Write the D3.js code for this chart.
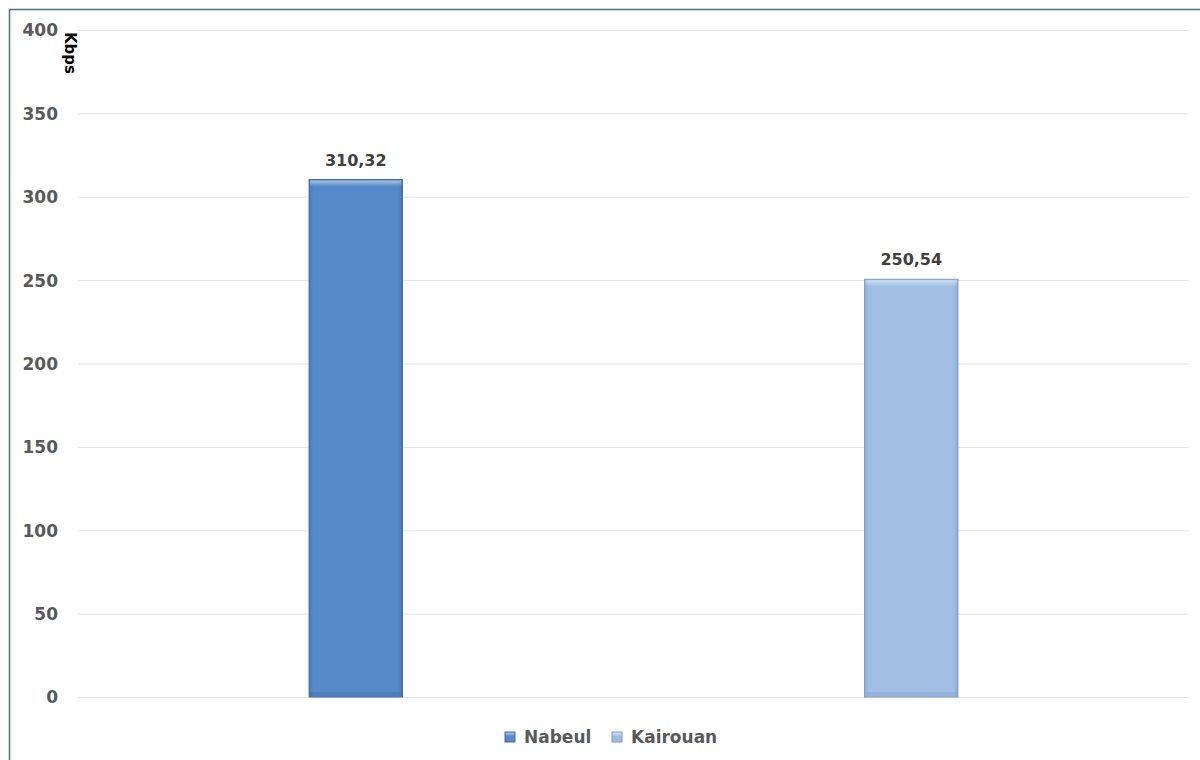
<!DOCTYPE html>
<html><head><meta charset="utf-8">
<script src="https://cdn.jsdelivr.net/npm/d3@7"></script>
<style>
html,body{margin:0;padding:0;background:#fff;}
svg{display:block;}
text{font-family:"DejaVu Sans",sans-serif;}
</style></head>
<body>
<svg id="c" width="1200" height="760"></svg>
<script>
const categories = ["Nabeul", "Kairouan"];
const values = [310.32, 250.54];
const valueLabels = ["310,32", "250,54"];
const colors = ["#5489CA", "#A0BEE3"];
const edgeColors = ["#3E6A9E", "#7D9BC2"];
const yTicks = [0, 50, 100, 150, 200, 250, 300, 350, 400];
const yTitle = "Kbps";

const svg = d3.select("#c");
const W = 1200, H = 760;
const m = {left: 78, right: 1189, top: 30, bottom: 697};
const x = d3.scaleBand().domain(categories).range([m.left, m.right]).paddingInner(0.832).paddingOuter(0.416);
const y = d3.scaleLinear().domain([0, 400]).range([m.bottom, m.top]);

// frame
svg.append("rect").attr("x", 9.5).attr("y", 9.5).attr("width", W).attr("height", H)
  .attr("fill", "#fff").attr("stroke", "#526E8C").attr("stroke-width", 1.5);

// gradients for bevel
const defs = svg.append("defs");
categories.forEach((c, i) => {
  const g = defs.append("linearGradient").attr("id", "gh" + i).attr("x1", 0).attr("x2", 1).attr("y1", 0).attr("y2", 0);
  g.append("stop").attr("offset", "0").attr("stop-color", edgeColors[i]).attr("stop-opacity", 0.6);
  g.append("stop").attr("offset", "0.06").attr("stop-color", colors[i]).attr("stop-opacity", 0);
  g.append("stop").attr("offset", "0.94").attr("stop-color", colors[i]).attr("stop-opacity", 0);
  g.append("stop").attr("offset", "1").attr("stop-color", edgeColors[i]).attr("stop-opacity", 0.7);
  const gv = defs.append("linearGradient").attr("id", "gt" + i).attr("x1", 0).attr("x2", 0).attr("y1", 0).attr("y2", 1);
  gv.append("stop").attr("offset", "0").attr("stop-color", "#fff").attr("stop-opacity", 0.5);
  gv.append("stop").attr("offset", "1").attr("stop-color", "#fff").attr("stop-opacity", 0);
});

// gridlines
const yAxis = d3.axisLeft(y).tickValues(yTicks).tickSize(-(m.right - m.left)).tickFormat(d3.format("d"));
const ga = svg.append("g").attr("transform", `translate(${m.left},0)`).call(yAxis);
ga.select(".domain").remove();
ga.selectAll(".tick line").attr("stroke", "#E3E3E3").attr("stroke-width", 1);
ga.selectAll(".tick text").attr("x", -20).attr("fill", "#595959")
  .style("font-size", "17px").style("font-weight", "bold").attr("dy", "0.35em");

// axis title
svg.append("text").attr("transform", "translate(65,32) rotate(90)")
  .attr("fill", "#000").style("font-size", "15px").style("font-weight", "bold")
  .text(yTitle);

// bars
const bars = svg.append("g").selectAll("g").data(categories).join("g");
bars.append("rect")
  .attr("x", d => x(d)).attr("y", (d, i) => y(values[i]))
  .attr("width", x.bandwidth()).attr("height", (d, i) => y(0) - y(values[i]))
  .attr("fill", (d, i) => colors[i]).attr("stroke", (d, i) => edgeColors[i]).attr("stroke-width", 1);
bars.append("rect")
  .attr("x", d => x(d)).attr("y", (d, i) => y(values[i]))
  .attr("width", x.bandwidth()).attr("height", (d, i) => y(0) - y(values[i]))
  .attr("fill", (d, i) => `url(#gh${i})`);
// top bevel highlight
bars.append("rect")
  .attr("x", d => x(d) + 1).attr("y", (d, i) => y(values[i]) + 1)
  .attr("width", x.bandwidth() - 2).attr("height", 6)
  .attr("fill", (d, i) => `url(#gt${i})`);
// bottom bevel shadow
bars.append("rect")
  .attr("x", d => x(d) + 1).attr("y", d => y(0) - 5)
  .attr("width", x.bandwidth() - 2).attr("height", 4)
  .attr("fill", (d, i) => edgeColors[i]).attr("opacity", 0.3);

// value labels
bars.append("text")
  .attr("x", d => x(d) + x.bandwidth() / 2).attr("y", (d, i) => y(values[i]) - 14)
  .attr("text-anchor", "middle").attr("fill", "#404040")
  .style("font-size", "16px").style("font-weight", "bold")
  .text((d, i) => valueLabels[i]);

// legend
const legendX = [505, 612];
const lg = svg.append("g").selectAll("g").data(categories).join("g")
  .attr("transform", (d, i) => `translate(${legendX[i]},732)`);
lg.append("rect").attr("width", 10).attr("height", 10).attr("fill", (d, i) => colors[i])
  .attr("stroke", (d, i) => edgeColors[i]).attr("stroke-width", 1);
lg.append("rect").attr("x", 0.5).attr("y", 0.5).attr("width", 9).attr("height", 4)
  .attr("fill", (d, i) => `url(#gt${i})`);
lg.append("text").attr("x", 19).attr("y", 5).attr("dy", "0.35em").attr("fill", "#595959")
  .style("font-size", "17px").style("font-weight", "bold").text(d => d);
</script>
</body></html>
